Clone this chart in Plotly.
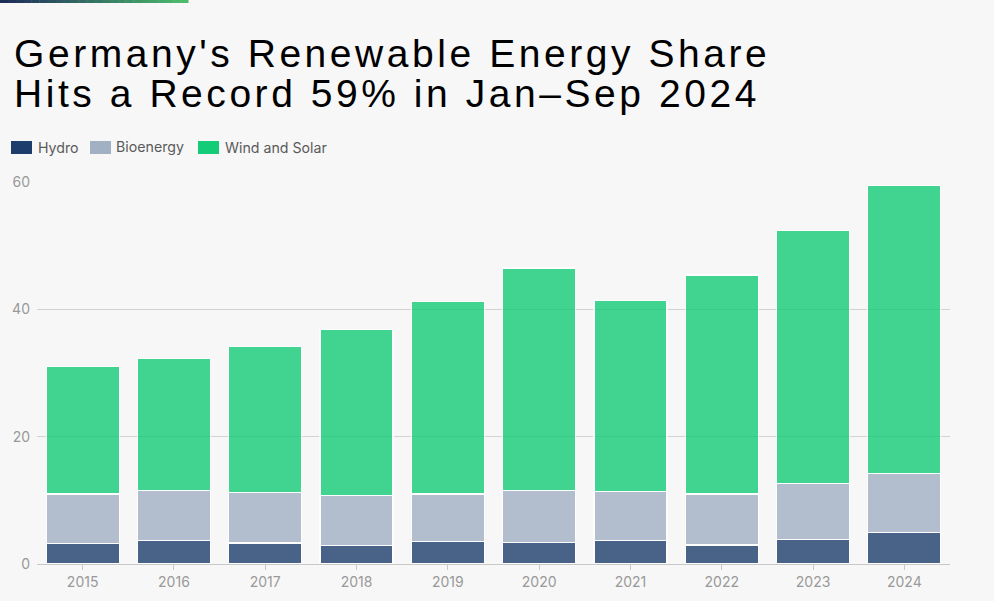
import plotly.graph_objects as go

# shares of gross power consumption, %
years = ['2015', '2016', '2017', '2018', '2019', '2020', '2021', '2022', '2023', '2024']
hydro = [3.2, 3.7, 3.3, 2.9, 3.5, 3.4, 3.7, 3.0, 3.9, 5.0]
bioenergy = [7.8, 7.9, 7.9, 7.9, 7.5, 8.2, 7.7, 8.0, 8.8, 9.2]
wind_solar = [20.0, 20.7, 23.0, 26.0, 30.2, 34.9, 30.0, 34.4, 39.7, 45.2]

series_names = ['Hydro', 'Bioenergy', 'Wind and Solar']
series_colors = ['#1d3d6d', '#a2b0c4', '#14cb77']
y_ticks = [0, 20, 40, 60]

W, H = 994, 601
L, R, T, B = 37, 44, 182, 37
BG = '#f7f7f7'

fig = go.Figure()
for name, vals, col in zip(series_names, [hydro, bioenergy, wind_solar], series_colors):
    fig.add_trace(go.Bar(
        x=years, y=vals, name=name,
        marker=dict(color=col, line=dict(color='white', width=1.2)),
        opacity=0.8,
        hovertemplate='%{x}<br>' + name + ': %{y}%<extra></extra>',
    ))

# paper coords helpers
def px_x(p):
    return (p - L) / (W - L - R)

def px_y(p):
    return (H - B - p) / (H - T - B)

shapes = []
annotations = []

# thin gradient strip across the top left
n_seg = 24
c0 = (0x1f, 0x2d, 0x5a)
c1 = (0x4c, 0xbb, 0x6c)
for i in range(n_seg):
    t = i / (n_seg - 1)
    c = tuple(round(a + (b - a) * t) for a, b in zip(c0, c1))
    shapes.append(dict(
        type='rect', xref='paper', yref='paper',
        x0=px_x(188 * i / n_seg), x1=px_x(188 * (i + 1) / n_seg + 0.5),
        y0=px_y(3), y1=px_y(0),
        fillcolor='rgb(%d,%d,%d)' % c, line=dict(width=0), layer='above',
    ))

# title, two lines placed separately to keep the tight leading
title_lines = ["Germany's Renewable Energy Share", "Hits a Record 59% in Jan\u2013Sep 2024"]
for line, top in zip(title_lines, [30, 70]):
    annotations.append(dict(
        text='<span style="letter-spacing:3.55px">' + line + '</span>',
        xref='paper', yref='paper', x=px_x(12), y=px_y(top),
        xanchor='left', yanchor='top', showarrow=False,
        font=dict(family='Liberation Sans, Arial', size=39, color='#000000'),
    ))

# custom legend with wide swatches
legend_items = [(11, 36), (90, 114), (198, 223)]
for (sx, tx), name, col in zip(legend_items, series_names, series_colors):
    shapes.append(dict(
        type='rect', xref='paper', yref='paper',
        x0=px_x(sx), x1=px_x(sx + 21), y0=px_y(154), y1=px_y(141),
        fillcolor=col, line=dict(width=0),
    ))
    annotations.append(dict(
        text=name, xref='paper', yref='paper', x=px_x(tx), y=px_y(147.5),
        xanchor='left', yanchor='middle', showarrow=False,
        font=dict(family='Inter, Noto Sans, sans-serif', size=14.2, color='#5a5a5a'),
    ))

fig.update_layout(
    width=W, height=H,
    barmode='stack', bargap=0.2,
    paper_bgcolor=BG, plot_bgcolor=BG,
    margin=dict(l=L, r=R, t=T, b=B, pad=0),
    showlegend=False,
    shapes=shapes, annotations=annotations,
    font=dict(family='Inter, Noto Sans, sans-serif', size=14, color='#999999'),
)
fig.update_xaxes(
    showgrid=False, showline=True, linecolor='#c8c8c8', linewidth=1,
    ticks='outside', ticklen=5, tickcolor='#c8c8c8',
    tickfont=dict(size=14, color='#999999'),
)
fig.update_yaxes(
    range=[0, 60], tickvals=y_ticks, showgrid=True, gridcolor='#d2d2d2', gridwidth=1,
    zeroline=False, showline=False, ticks='', ticklabelstandoff=6,
    tickfont=dict(size=14, color='#999999'),
)

fig.write_html('out.html', config={'displayModeBar': False},
               post_script="document.body.style.margin='0';")
